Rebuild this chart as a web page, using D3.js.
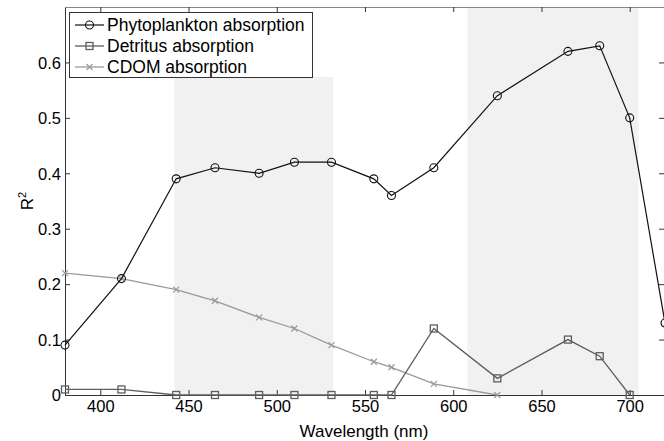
<!doctype html>
<html>
<head>
    <style>
        body {
            margin: 0;
            background: #fff;
            font-family: 'Liberation Sans', Arial, sans-serif;
        }

        svg {
            display: block;
        }

        text {
            font-size: 17px;
            fill: #000;
        }

        .axis path,
        .axis line {
            stroke: #333;
            stroke-width: 1;
        }

        .axis text {
            font-size: 16.5px;
            font-family: 'Liberation Sans', Arial, sans-serif;
            fill: #000;
        }

        .band {
            fill: #f1f1f1;
        }

        .legend-box {
            fill: #fff;
            stroke: #333;
            stroke-width: 1;
        }
    </style>
    <script src="https://d3js.org/d3.v7.min.js"></script>
</head>
<body>
<svg width="664" height="441"></svg>
<script>
    // wavelengths (nm)
    const wavelengths = [380, 412, 443, 465, 490, 510, 531, 555, 565, 589, 625, 665, 683, 700, 720]

    // R^2 per series (null = no point)
    const phytoplankton = [0.09, 0.21, 0.39, 0.41, 0.40, 0.42, 0.42, 0.39, 0.36, 0.41, 0.54, 0.62, 0.63, 0.50, 0.13]
    const detritus = [0.01, 0.01, 0, 0, 0, 0, 0, 0, 0, 0.12, 0.03, 0.10, 0.07, 0, null]
    const cdom = [0.22, 0.21, 0.19, 0.17, 0.14, 0.12, 0.09, 0.06, 0.05, 0.02, 0, null, null, null, null]

    const seriesNames = ['Phytoplankton absorption', 'Detritus absorption', 'CDOM absorption']

    // shaded wavelength bands [from, to, top R^2]
    const bands = [[442, 532, 0.574], [608, 705, 0.7]]

    const xTicks = [400, 450, 500, 550, 600, 650, 700]
    const yTicks = [0, 0.1, 0.2, 0.3, 0.4, 0.5, 0.6]

    const svg = d3.select('svg')

    const pLeft = 65, pRight = 665, pTop = 7, pBottom = 395

    const x = d3.scaleLinear().domain([380, 720]).range([pLeft, pRight])
    const y = d3.scaleLinear().domain([0, 0.7]).range([pBottom, pTop])

    // grey bands
    svg.selectAll('.band')
        .data(bands)
        .enter()
        .append('rect')
        .attr('class', 'band')
        .attr('x', d => x(d[0]))
        .attr('width', d => x(d[1]) - x(d[0]))
        .attr('y', d => y(d[2]))
        .attr('height', d => y(0) - y(d[2]))

    // axes, ticks pointing inward like matlab
    const xAxis = svg.append('g')
        .attr('class', 'axis')
        .attr('transform', `translate(0, ${pBottom})`)
        .call(d3.axisBottom(x).tickValues(xTicks).tickSizeInner(-5).tickSizeOuter(0).tickPadding(4))
    xAxis.selectAll('text').attr('dy', '0.8em')

    svg.append('g')
        .attr('class', 'axis')
        .attr('transform', `translate(0, ${pTop})`)
        .call(d3.axisTop(x).tickValues(xTicks).tickSizeInner(-5).tickSizeOuter(0).tickFormat(''))
        .select('.domain').style('stroke', '#888')

    const yAxis = svg.append('g')
        .attr('class', 'axis')
        .attr('transform', `translate(${pLeft}, 0)`)
        .call(d3.axisLeft(y).tickValues(yTicks).tickSizeInner(-5).tickSizeOuter(0).tickPadding(4)
            .tickFormat(d => d === 0 ? '0' : d.toFixed(1)))
    yAxis.selectAll('text').attr('dy', '0.35em')

    svg.append('g')
        .attr('class', 'axis')
        .attr('transform', `translate(${pRight - 1}, 0)`)
        .call(d3.axisRight(y).tickValues(yTicks).tickSizeInner(-5).tickSizeOuter(0).tickFormat(''))

    // series
    const series = [
        { name: seriesNames[0], values: phytoplankton, color: '#111', width: 1.2, marker: 'circle' },
        { name: seriesNames[1], values: detritus, color: '#5e5e5e', width: 1.3, marker: 'square' },
        { name: seriesNames[2], values: cdom, color: '#9a9a9a', width: 1.3, marker: 'cross' }
    ]

    const line = d3.line()
        .defined(d => d[1] != null)
        .x(d => x(d[0]))
        .y(d => y(d[1]))

    function drawMarker(g, kind, cx, cy, color) {
        if (kind === 'circle') {
            g.append('circle').attr('cx', cx).attr('cy', cy).attr('r', 4)
                .attr('fill', 'none').attr('stroke', color).attr('stroke-width', 1.1)
        } else if (kind === 'square') {
            g.append('rect').attr('x', cx - 3.5).attr('y', cy - 3.5).attr('width', 7).attr('height', 7)
                .attr('fill', 'none').attr('stroke', color).attr('stroke-width', 1.3)
        } else {
            g.append('path').attr('d', `M${cx - 3},${cy - 3}L${cx + 3},${cy + 3}M${cx - 3},${cy + 3}L${cx + 3},${cy - 3}`)
                .attr('stroke', color).attr('stroke-width', 1.2)
        }
    }

    const plot = svg.append('g')
    series.slice().reverse().forEach(s => {
        const pts = wavelengths.map((w, i) => [w, s.values[i]])
        plot.append('path')
            .attr('d', line(pts))
            .attr('fill', 'none')
            .attr('stroke', s.color)
            .attr('stroke-width', s.width)
        pts.filter(p => p[1] != null).forEach(p => drawMarker(plot, s.marker, x(p[0]), y(p[1]), s.color))
    })

    // legend
    const legend = svg.append('g')
    legend.append('rect')
        .attr('class', 'legend-box')
        .attr('x', 69.5).attr('y', 12.5)
        .attr('width', 243).attr('height', 65)

    series.forEach((s, i) => {
        const ly = 25 + i * 21
        legend.append('line')
            .attr('x1', 75).attr('x2', 104).attr('y1', ly).attr('y2', ly)
            .attr('stroke', s.color).attr('stroke-width', s.width)
        drawMarker(legend, s.marker, 89.5, ly, s.color)
        legend.append('text')
            .attr('x', 107).attr('y', ly)
            .attr('dy', '0.36em')
            .style('font-size', '17.5px')
            .text(s.name)
    })

    // axis titles
    svg.append('text')
        .attr('x', 364)
        .attr('y', 437)
        .attr('text-anchor', 'middle')
        .text('Wavelength (nm)')

    const ylab = svg.append('text')
        .attr('transform', `translate(33, ${(pTop + pBottom) / 2}) rotate(-90)`)
        .attr('text-anchor', 'middle')
    ylab.append('tspan').text('R')
    ylab.append('tspan').attr('dy', -7).style('font-size', '11px').text('2')
</script>
</body>
</html>
